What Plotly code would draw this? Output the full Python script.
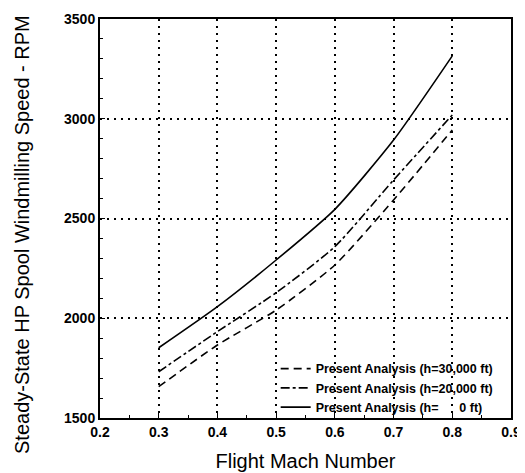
import plotly.graph_objects as go

mach = [0.3, 0.4, 0.5, 0.6, 0.7, 0.8]
rpm_30k = [1657, 1866, 2041, 2267, 2593, 2944]
rpm_20k = [1732, 1933, 2128, 2359, 2693, 3019]
rpm_0 = [1852, 2058, 2292, 2546, 2893, 3315]

names = ["Present Analysis (h=30,000 ft)",
         "Present Analysis (h=20,000 ft)",
         "Present Analysis (h=      0 ft)"]

x_ticks = [0.2, 0.3, 0.4, 0.5, 0.6, 0.7, 0.8, 0.9]
x_tick_text = ["0.2", "0.3", "0.4", "0.5", "0.6", "0.7", "0.8", "0.9"]
y_ticks = [1500, 2000, 2500, 3000, 3500]

y_title = "Steady-State HP Spool Windmilling Speed - RPM"
x_title = "Flight Mach Number"

fig = go.Figure()
styles = [(rpm_30k, "8px,5px", 1.6), (rpm_20k, "dashdot", 1.6), (rpm_0, "solid", 1.6)]
for (ys, dash, w), nm in zip(styles, names):
    fig.add_trace(go.Scatter(x=mach, y=ys, mode="lines", name=nm,
                             line=dict(color="black", dash=dash, width=w, shape="spline", smoothing=0.6)))

axis_common = dict(showline=True, linecolor="black", linewidth=2, mirror=True,
                   ticks="inside", ticklen=5, tickcolor="black",
                   showgrid=True, gridcolor="black", gridwidth=1.5, griddash="2px,5px",
                   zeroline=False, automargin=False,
                   tickfont=dict(family="Liberation Sans, Arial", size=14, color="black", weight="bold"),
                   minor=dict(ticks="inside", ticklen=3, tickcolor="black", showgrid=False))

fig.update_xaxes(range=[0.2, 0.9], tickvals=x_ticks, ticktext=x_tick_text,
                 minor_dtick=0.05,
                 title=dict(text=x_title, font=dict(family="Liberation Sans, Arial", size=20, color="black"), standoff=15),
                 **axis_common)
fig.update_yaxes(range=[1500, 3500], tickvals=y_ticks,
                 minor_dtick=100,
                 **axis_common)

fig.add_annotation(text=y_title, xref="paper", yref="paper",
                   x=-0.19, y=0.461, xanchor="center", yanchor="middle",
                   textangle=-90, showarrow=False,
                   font=dict(family="Liberation Sans, Arial", size=20, color="black"))

fig.update_layout(
    width=525, height=473,
    margin=dict(l=92, r=22, t=11, b=63),
    plot_bgcolor="white", paper_bgcolor="white",
    showlegend=True,
    legend=dict(x=0.97, y=-0.01, xanchor="right", yanchor="bottom",
                bgcolor="rgba(0,0,0,0)", borderwidth=0,
                font=dict(family="Liberation Sans, Arial", size=12.5, color="black", weight="bold"),
                tracegroupgap=0, itemwidth=30),
)

fig.write_html("out.html")
